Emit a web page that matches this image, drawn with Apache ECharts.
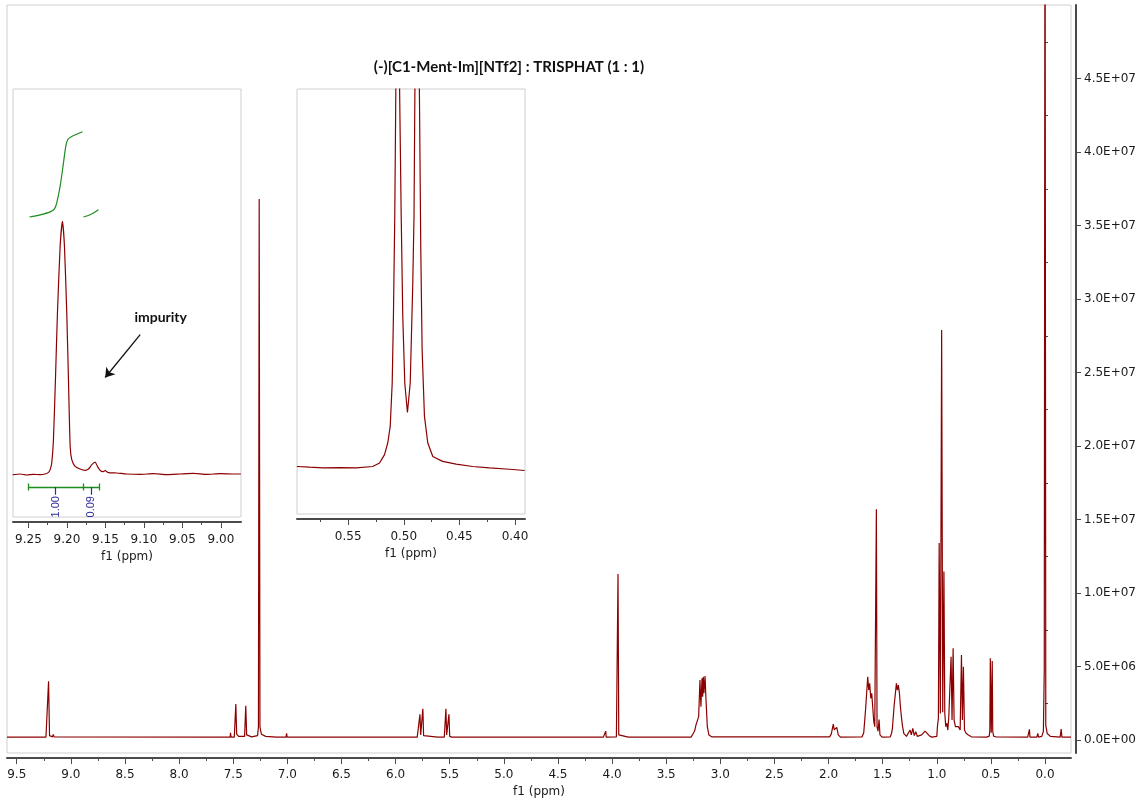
<!DOCTYPE html>
<html>
<head>
<meta charset="utf-8">
<script src="https://cdn.jsdelivr.net/npm/echarts@6/dist/echarts.min.js"></script>
<style>
  html, body { margin: 0; padding: 0; background: #fff; }
  #chart { width: 1144px; height: 803px; }
</style>
</head>
<body>
<div id="chart"></div>
<script>
// ---- 1H NMR spectrum: chemical shift (ppm) and intensity (millions of counts) ----
const mainPpm = [
  9.59, 9.23, 9.215, 9.206, 9.197, 9.17, 9.163, 9.155,
  7.55, 7.528, 7.525, 7.52, 7.49, 7.484, 7.476, 7.468, 7.45,
  7.395, 7.39, 7.384, 7.376, 7.33, 7.275, 7.267, 7.26, 7.253, 7.24, 7.2, 7.1,
  7.012, 7.007, 7.002,
  5.8, 5.782, 5.775, 5.768, 5.755, 5.748, 5.741, 5.73, 5.61, 5.597, 5.585,
  5.55, 5.542, 5.535, 5.528, 5.514, 5.507, 5.5, 5.48,
  4.08, 4.064, 4.059, 4.054, 3.96, 3.952, 3.945, 3.938, 3.92, 3.85,
  3.27, 3.249, 3.237, 3.225, 3.213, 3.2, 3.188, 3.179, 3.169, 3.163, 3.157, 3.151, 3.141, 3.132, 3.12, 3.105, 3.08,
  1.99, 1.975, 1.956, 1.948, 1.94, 1.932, 1.924, 1.91, 1.89,
  1.69, 1.675, 1.663, 1.657, 1.638, 1.629, 1.62, 1.61, 1.601, 1.592, 1.582, 1.573, 1.564, 1.558, 1.552, 1.543, 1.533, 1.525, 1.505,
  1.43, 1.418, 1.41, 1.395, 1.385, 1.373, 1.364, 1.355, 1.345, 1.336, 1.327, 1.318, 1.305,
  1.28, 1.247, 1.235, 1.222, 1.208, 1.194, 1.18, 1.14, 1.108, 1.07, 1.047, 1.0,
  0.994, 0.985, 0.978, 0.967, 0.955, 0.945, 0.934, 0.926, 0.917, 0.907, 0.898, 0.889, 0.877, 0.868, 0.859, 0.849, 0.84,
  0.828, 0.815, 0.8, 0.784, 0.772, 0.763, 0.754, 0.744, 0.729, 0.708, 0.68,
  0.54, 0.515, 0.51, 0.5054, 0.4967, 0.4877, 0.483, 0.475, 0.45,
  0.16, 0.149, 0.144, 0.139, 0.075, 0.067, 0.06,
  0.03, 0.015, 0.007, 0.0, -0.007, -0.02, -0.05, -0.14, -0.149, -0.156, -0.24
];
const mainIntensity = [
  0.2, 0.2, 0.3, 4.0, 0.3, 0.22, 0.38, 0.22,
  0.2, 0.2, 0.5, 0.2, 0.2, 0.3, 2.45, 0.4, 0.25,
  0.25, 0.35, 2.33, 0.35, 0.22, 0.3, 0.9, 36.8, 0.9, 0.4, 0.25, 0.2,
  0.2, 0.45, 0.2,
  0.2, 0.25, 1.75, 0.35, 0.35, 2.13, 0.3, 0.2, 0.2, 0.32, 0.2,
  0.2, 0.3, 2.13, 0.35, 0.35, 1.75, 0.25, 0.2,
  0.2, 0.2, 0.61, 0.2, 0.22, 0.35, 11.3, 0.35, 0.25, 0.2,
  0.2, 0.46, 0.63, 1.02, 1.14, 1.59, 4.08, 2.27, 4.2, 2.95, 4.31, 3.18, 4.36, 2.72, 0.91, 0.34, 0.22,
  0.22, 0.4, 1.09, 0.7, 0.8, 0.72, 0.86, 0.35, 0.2,
  0.22, 0.5, 1.59, 2.16, 4.31, 3.4, 3.86, 2.84, 3.18, 2.27, 1.25, 0.91, 1.0, 15.7, 0.9, 0.6, 1.4, 0.35, 0.2,
  0.22, 0.45, 0.8, 2.27, 2.38, 3.86, 3.4, 3.74, 3.18, 2.27, 1.59, 1.02, 0.45,
  0.25, 0.68, 0.35, 0.8, 0.3, 0.57, 0.25, 0.35, 0.61, 0.3, 0.2, 0.25,
  0.91, 1.5, 13.4, 1.8, 27.9, 1.9, 11.46, 1.82, 0.91, 1.14, 0.68, 1.59, 1.7, 5.67, 1.36, 6.24, 1.36,
  0.91, 0.8, 0.91, 0.68, 5.79, 1.36, 4.99, 0.68, 0.46, 0.34, 0.22,
  0.2, 0.27, 0.66, 5.56, 0.5, 5.38, 0.6, 0.27, 0.21,
  0.2, 0.2, 0.73, 0.2, 0.2, 0.45, 0.2,
  0.25, 0.6, 4.8, 65, 1.0, 0.45, 0.25, 0.2, 0.75, 0.2, 0.2
];

// Expansion of the 9.2 ppm singlet (same intensity units)
const zoomAPpm = [
  9.2703, 9.2608, 9.2521, 9.2435, 9.2348, 9.2283, 9.224, 9.2218, 9.2197, 9.2175, 9.2149, 9.2123, 9.2088,
  9.2058, 9.2032, 9.2002, 9.198, 9.1958, 9.1937, 9.1894, 9.1829, 9.1764, 9.172, 9.1677, 9.1634, 9.1604,
  9.1569, 9.1534, 9.1504, 9.1461, 9.1352, 9.1223, 9.1049, 9.0876, 9.0703, 9.053, 9.0357, 9.0184, 9.001,
  8.9837, 8.9742
];
const zoomAIntensity = [
  0.19, 0.2, 0.185, 0.195, 0.19, 0.2, 0.225, 0.265, 0.365, 0.716, 1.619, 2.622, 3.625,
  4.0, 3.625, 2.622, 1.619, 0.616, 0.415, 0.315, 0.275, 0.255, 0.275, 0.34, 0.38, 0.315,
  0.255, 0.235, 0.25, 0.22, 0.215, 0.2, 0.195, 0.205, 0.19, 0.2, 0.21, 0.195, 0.205,
  0.2, 0.2
];

// Integral traces over the 9.2 ppm region (relative level)
const integralMainPpm = [9.2487, 9.2348, 9.2218, 9.2162, 9.2132, 9.2088, 9.2045, 9.2015, 9.1989, 9.1937, 9.1798];
const integralMainLevel = [0.701, 0.706, 0.713, 0.72, 0.734, 0.773, 0.827, 0.866, 0.882, 0.889, 0.9];
const integralImpPpm = [9.1785, 9.1699, 9.1591];
const integralImpLevel = [0.701, 0.706, 0.718];

// Integration regions (ppm) and their values
const integralRegions = [[9.25, 9.1794], [9.1794, 9.1578]];
const integralValues = ['1.00', '0.09'];

// Expansion of the 0.5 ppm doublet
const zoomBPpm = [
  0.5961, 0.5847, 0.5728, 0.5578, 0.5428, 0.5279, 0.5218, 0.5173, 0.5144, 0.5122, 0.5104, 0.5093, 0.5081, 0.5069,
  0.5054, 0.5041, 0.5023, 0.5009, 0.4991, 0.4967, 0.4942, 0.4919, 0.4908, 0.4898,
  0.4877, 0.4862, 0.4847, 0.4835, 0.4814, 0.4784, 0.4739, 0.465, 0.4529, 0.438, 0.423, 0.405, 0.3913
];
const zoomBIntensity = [
  0.203, 0.199, 0.195, 0.197, 0.195, 0.203, 0.222, 0.268, 0.332, 0.423, 0.662, 1.027, 1.577, 2.44,
  5.56, 2.44, 1.577, 1.027, 0.662, 0.5, 0.662, 1.211, 1.577, 2.44,
  5.38, 2.44, 1.394, 0.845, 0.478, 0.332, 0.258, 0.231, 0.216, 0.203, 0.195, 0.188, 0.181
];

// Axis ticks
const ppmLabels = [9.5, 9.0, 8.5, 8.0, 7.5, 7.0, 6.5, 6.0, 5.5, 5.0, 4.5, 4.0, 3.5, 3.0, 2.5, 2.0, 1.5, 1.0, 0.5, 0.0];
const ppmMinor = [9.25, 8.75, 8.25, 7.75, 7.25, 6.75, 6.25, 5.75, 5.25, 4.75, 4.25, 3.75, 3.25, 2.75, 2.25, 1.75, 1.25, 0.75, 0.25];
const intensityLabels = [0, 5e6, 1e7, 1.5e7, 2e7, 2.5e7, 3e7, 3.5e7, 4e7, 4.5e7];
const intensityMinor = [2.5e6, 7.5e6, 1.25e7, 1.75e7, 2.25e7, 2.75e7, 3.25e7, 3.75e7, 4.25e7, 4.75e7];
const zoomALabels = [9.25, 9.20, 9.15, 9.10, 9.05, 9.00];
const zoomAMinor = [9.225, 9.175, 9.125, 9.075, 9.025];
const zoomBLabels = [0.55, 0.50, 0.45, 0.40];
const zoomBMinor = [0.575, 0.525, 0.475, 0.425];

const TITLE = '(-)[C1-Ment-Im][NTf2] : TRISPHAT (1 : 1)';
const IMPURITY_TEXT = 'impurity';

// ---- helpers ----
const M = 1e6;
const pairs = (xs, ys, k) => xs.map((x, i) => [x, ys[i] * (k || 1)]);
function sci(v) {
  if (v === 0) return '0.0E+00';
  const e = Math.floor(Math.log10(Math.abs(v)) + 1e-9);
  const m = v / Math.pow(10, e);
  return m.toFixed(1) + 'E' + (e < 0 ? '-' : '+') + String(Math.abs(e)).padStart(2, '0');
}

const SPEC = '#8b0000';
const AXIS = '#4a4a4a';
const FRAME = '#cfcfcf';
const GREEN = '#1e8c1e';
const NAVY = '#2d2d96';
const FONT = 'DejaVu Sans';
const TXT = '#1a1a1a';
const CLEAR = 'rgba(0,0,0,0)';

function ppmAxis(gridIndex, min, max, labels, decimals, margin, nameGap) {
  return {
    type: 'value', gridIndex, min, max, inverse: true, position: 'bottom', offset: 5,
    name: 'f1 (ppm)', nameLocation: 'middle', nameGap,
    nameTextStyle: { fontFamily: FONT, fontSize: 12, color: TXT },
    axisLine: { show: true, onZero: false, lineStyle: { color: AXIS, width: 2 } },
    axisTick: { show: true, inside: false, length: 6, customValues: labels, lineStyle: { color: AXIS, width: 1 } },
    axisLabel: { show: true, customValues: labels, margin, fontFamily: FONT, fontSize: 12, color: TXT,
                 formatter: v => Number(v).toFixed(decimals) },
    splitLine: { show: false }
  };
}
function minorPpmAxis(gridIndex, min, max, ticks) {
  return {
    type: 'value', gridIndex, min, max, inverse: true, position: 'bottom', offset: 5,
    axisLine: { show: false, onZero: false },
    axisTick: { show: true, inside: false, length: 3, customValues: ticks, lineStyle: { color: AXIS, width: 1 } },
    axisLabel: { show: false },
    splitLine: { show: false }
  };
}
function hiddenY(gridIndex, min, max) {
  return { type: 'value', gridIndex, min, max, show: false, splitLine: { show: false } };
}

const regionMid = integralRegions.map(r => (r[0] + r[1]) / 2);
const bracketLevel = 0.07, capHalf = 0.008, valueTickEnd = 0.052, valueTextLevel = 0.024;
const bracketEdges = [integralRegions[0][0], integralRegions[0][1], integralRegions[1][1]];

const option = {
  animation: false,
  backgroundColor: '#fff',
  graphic: [{
    type: 'text', x: 509, y: 67, z: 10,
    style: { text: TITLE, fontFamily: 'Lato', fontWeight: 'bold', fontSize: 15, fill: '#111',
             textAlign: 'center', textVerticalAlign: 'middle' }
  }],
  grid: [
    { left: 7, top: 5, width: 1064, height: 748, show: true, borderColor: FRAME, borderWidth: 1, backgroundColor: '#fff' },
    { left: 13, top: 89, width: 228, height: 428, show: true, borderColor: FRAME, borderWidth: 1, backgroundColor: '#fff', z: 3 },
    { left: 297, top: 89, width: 228, height: 425, show: true, borderColor: FRAME, borderWidth: 1, backgroundColor: '#fff', z: 3 }
  ],
  xAxis: [
    ppmAxis(0, -0.24, 9.59, ppmLabels, 1, 11, 26),
    minorPpmAxis(0, -0.24, 9.59, ppmMinor),
    ppmAxis(1, 8.974, 9.270, zoomALabels, 2, 12, 25),
    minorPpmAxis(1, 8.974, 9.270, zoomAMinor),
    ppmAxis(2, 0.391, 0.596, zoomBLabels, 2, 12, 26),
    minorPpmAxis(2, 0.391, 0.596, zoomBMinor)
  ],
  yAxis: [
    {
      type: 'value', gridIndex: 0, min: -0.88e6, max: 5.0e7, position: 'right', offset: 5,
      axisLine: { show: true, onZero: false, lineStyle: { color: AXIS, width: 2 } },
      axisTick: { show: true, inside: false, length: 5, customValues: intensityLabels, lineStyle: { color: AXIS, width: 1 } },
      axisLabel: { show: true, customValues: intensityLabels, margin: 8, fontFamily: FONT, fontSize: 12, color: TXT, formatter: sci },
      splitLine: { show: false }
    },
    {
      type: 'value', gridIndex: 0, min: -0.88e6, max: 5.0e7, position: 'right', offset: 5,
      axisLine: { show: false },
      axisTick: { show: true, inside: false, length: 3, customValues: intensityMinor, lineStyle: { color: AXIS, width: 1 } },
      axisLabel: { show: false },
      splitLine: { show: false }
    },
    hiddenY(1, -0.447e6, 5.992e6),
    hiddenY(1, 0, 1),
    hiddenY(2, -0.058e6, 2.277e6)
  ],
  series: [
    {
      name: 'spectrum', type: 'line', xAxisIndex: 0, yAxisIndex: 0,
      data: pairs(mainPpm, mainIntensity, M), showSymbol: false, symbol: 'none',
      lineStyle: { color: SPEC, width: 1.2 }, clip: true, z: 2
    },
    {
      name: 'spectrum 9.2', type: 'line', xAxisIndex: 2, yAxisIndex: 2,
      data: pairs(zoomAPpm, zoomAIntensity, M), showSymbol: false, symbol: 'none',
      smooth: 0.2, lineStyle: { color: SPEC, width: 1.2 }, clip: true, z: 5
    },
    {
      name: 'integral 1', type: 'line', xAxisIndex: 2, yAxisIndex: 3,
      data: pairs(integralMainPpm, integralMainLevel), showSymbol: false, symbol: 'none',
      smooth: 0.3, lineStyle: { color: GREEN, width: 1.2 }, z: 5
    },
    {
      name: 'integral 2', type: 'line', xAxisIndex: 2, yAxisIndex: 3,
      data: pairs(integralImpPpm, integralImpLevel), showSymbol: false, symbol: 'none',
      smooth: 0.3, lineStyle: { color: GREEN, width: 1.2 }, z: 5
    },
    {
      name: 'integration brackets', type: 'lines', coordinateSystem: 'cartesian2d', xAxisIndex: 2, yAxisIndex: 3,
      polyline: false, symbol: ['none', 'none'],
      itemStyle: { color: GREEN },
      lineStyle: { color: GREEN, width: 1.3, opacity: 1, curveness: 0 },
      data: [{ coords: [[bracketEdges[0], bracketLevel], [bracketEdges[2], bracketLevel]] }]
        .concat(bracketEdges.map(x => ({ coords: [[x, bracketLevel - capHalf], [x, bracketLevel + capHalf]] }))),
      z: 5
    },
    {
      name: 'integration ticks', type: 'lines', coordinateSystem: 'cartesian2d', xAxisIndex: 2, yAxisIndex: 3,
      polyline: false, symbol: ['none', 'none'],
      itemStyle: { color: NAVY },
      lineStyle: { color: NAVY, width: 1.2, opacity: 1, curveness: 0 },
      data: regionMid.map(x => ({ coords: [[x, bracketLevel], [x, valueTickEnd]] })),
      z: 5
    },
    {
      name: 'integration values', type: 'scatter', xAxisIndex: 2, yAxisIndex: 3,
      symbol: 'circle', symbolSize: 1, itemStyle: { color: CLEAR },
      data: regionMid.map((x, i) => ({ value: [x, valueTextLevel], name: integralValues[i] })),
      label: { show: true, position: 'inside', rotate: 90, formatter: p => p.name, opacity: 1,
               fontFamily: 'Liberation Sans', fontSize: 11, color: NAVY, align: 'center', verticalAlign: 'middle' },
      z: 6
    },
    {
      name: 'impurity label', type: 'scatter', xAxisIndex: 2, yAxisIndex: 3,
      symbol: 'circle', symbolSize: 1, itemStyle: { color: CLEAR },
      data: [{ value: [9.0783, 0.466], name: IMPURITY_TEXT }],
      label: { show: true, position: 'inside', formatter: p => p.name, opacity: 1,
               fontFamily: 'Lato', fontWeight: 'bold', fontSize: 14, color: '#111', align: 'center', verticalAlign: 'middle' },
      z: 6
    },
    {
      name: 'impurity arrow', type: 'lines', coordinateSystem: 'cartesian2d', xAxisIndex: 2, yAxisIndex: 3,
      polyline: false, symbol: ['none', 'arrow'], symbolSize: 9,
      itemStyle: { color: '#111' },
      lineStyle: { color: '#111', width: 1.3, opacity: 1, curveness: 0 },
      data: [{ coords: [[9.1049, 0.426], [9.1503, 0.326]] }],
      z: 6
    },
    {
      name: 'spectrum 0.5', type: 'line', xAxisIndex: 4, yAxisIndex: 4,
      data: pairs(zoomBPpm, zoomBIntensity, M), showSymbol: false, symbol: 'none',
      lineStyle: { color: SPEC, width: 1.2 }, clip: true, z: 5
    }
  ]
};

const chart = echarts.init(document.getElementById('chart'), null, { renderer: 'canvas' });
chart.setOption(option);
</script>
</body>
</html>
